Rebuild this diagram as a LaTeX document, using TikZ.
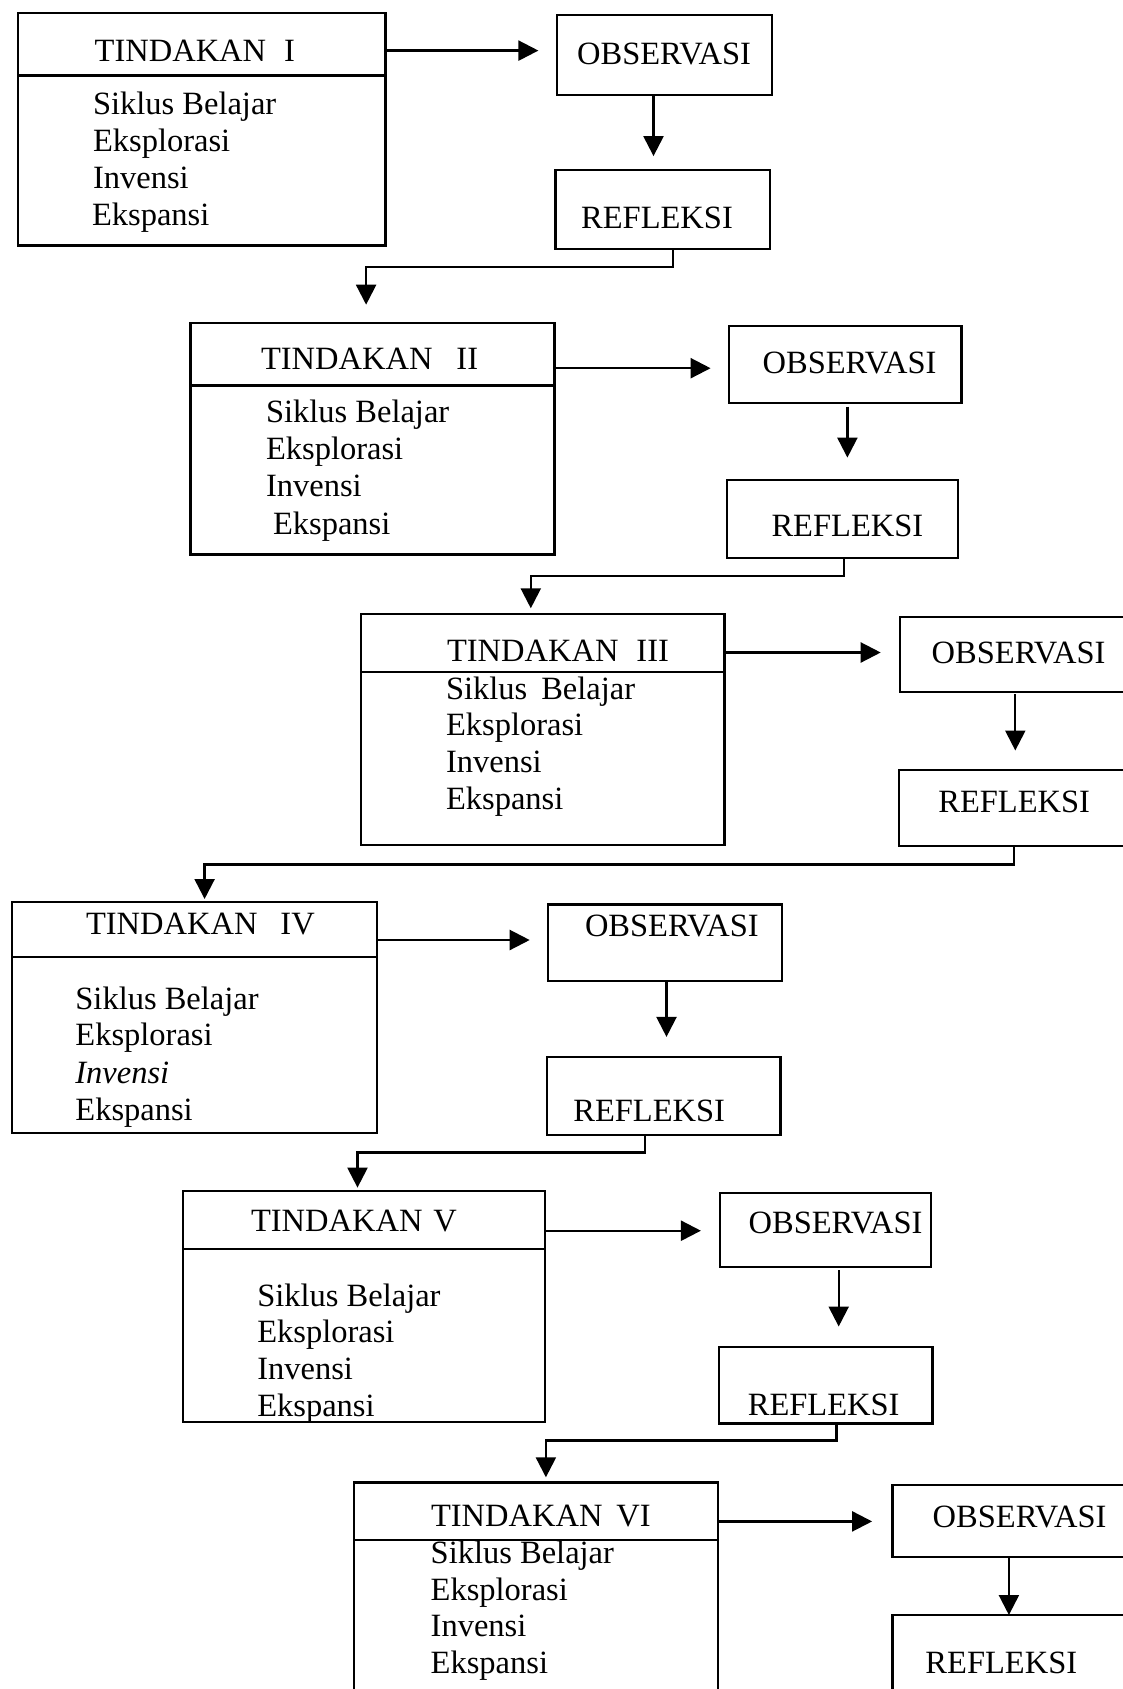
\documentclass[tikz,border=0pt]{standalone}
\usepackage{fontspec}
\setmainfont{Liberation Serif}
\usetikzlibrary{arrows.meta,fit}
\begin{document}
\begin{tikzpicture}[x=1pt,y=-1pt,
  box/.style={draw, line width=2.3pt, inner sep=0pt, outer sep=0pt},
  txt/.style={inner sep=0pt, outer sep=0pt, font=\fontsize{32.5}{38}\selectfont},
  arr/.style={line width=2.3pt, -{Triangle[length=20pt,width=20pt]}},
  conn/.style={line width=2.3pt}]
\useasboundingbox (0,0) rectangle (1123,1689);
\fill[white] (0,0) rectangle (1123,1689);

% ---------- Row 1 ----------
\node[box, fit={(18.3,12.9) (385.5,245.5)}] (t1) {};
\draw[conn] (t1.west |- 0,75.4) -- (t1.east |- 0,75.4);
\node[txt, anchor=base west] (t1h) at (94.7,61) {TINDAKAN\hspace{18pt}I};
\node[txt, anchor=base west] (t1a) at (93,114) {Siklus Belajar};
\node[txt, anchor=base west] (t1b) at (93,151) {Eksplorasi};
\node[txt, anchor=base west] (t1c) at (93,188) {Invensi};
\node[txt, anchor=base west] (t1d) at (92,225) {Ekspansi};
\node[box, fit={(556.7,15.1) (772,94.7)}] (o1) {};
\node[txt, anchor=base] (o1t) at (664,64) {OBSERVASI};
\node[box, fit={(555.6,170.1) (769.8,248.7)}] (r1) {};
\node[txt, anchor=base] (r1t) at (657,228.6) {REFLEKSI};

% ---------- Row 2 ----------
\node[box, fit={(190.6,323) (554.5,554.5)}] (t2) {};
\draw[conn] (t2.west |- 0,385.5) -- (t2.east |- 0,385.5);
\node[txt, anchor=base west] (t2h) at (261,369.6) {TINDAKAN\hspace{24pt}II};
\node[txt, anchor=base west] (t2a) at (266,422.4) {Siklus Belajar};
\node[txt, anchor=base west] (t2b) at (266,459) {Eksplorasi};
\node[txt, anchor=base west] (t2c) at (266,496.7) {Invensi};
\node[txt, anchor=base west] (t2d) at (273,534.4) {Ekspansi};
\node[box, fit={(728.9,326.2) (961.5,402.7)}] (o2) {};
\node[txt, anchor=base] (o2t) at (849.5,373) {OBSERVASI};
\node[box, fit={(726.8,480.2) (958.3,557.7)}] (r2) {};
\node[txt, anchor=base] (r2t) at (847.4,536.5) {REFLEKSI};

% ---------- Row 3 ----------
\node[box, fit={(360.7,613.7) (724.6,845.2)}] (t3) {};
\draw[conn] (t3.west |- 0,671.9) -- (t3.east |- 0,671.9);
\node[txt, anchor=base west] (t3h) at (447,661.4) {TINDAKAN\hspace{18pt}III};
\node[txt, anchor=base west] (t3a) at (446,699) {Siklus\hspace{14pt}Belajar};
\node[txt, anchor=base west] (t3b) at (446,735.7) {Eksplorasi};
\node[txt, anchor=base west] (t3c) at (446,772.3) {Invensi};
\node[txt, anchor=base west] (t3d) at (446,809) {Ekspansi};
\node[box, fit={(900.1,616.9) (1130,692.3)}] (o3) {};
\node[txt, anchor=base] (o3t) at (1018.6,663.5) {OBSERVASI};
\node[box, fit={(899,769.8) (1130,846.3)}] (r3) {};
\node[txt, anchor=base] (r3t) at (1014.2,812) {REFLEKSI};

% ---------- Row 4 ----------
\node[box, fit={(11.8,902.3) (376.8,1132.7)}] (t4) {};
\draw[conn] (t4.west |- 0,957.2) -- (t4.east |- 0,957.2);
\node[txt, anchor=base west] (t4h) at (86,934.9) {TINDAKAN\hspace{23pt}IV};
\node[txt, anchor=base west] (t4a) at (75.4,1009.2) {Siklus Belajar};
\node[txt, anchor=base west] (t4b) at (75.4,1045.8) {Eksplorasi};
\node[txt, anchor=base west] (t4c) at (75.4,1083.4) {\itshape Invensi};
\node[txt, anchor=base west] (t4d) at (75.4,1120.1) {Ekspansi};
\node[box, fit={(548,904.4) (781.7,980.9)}] (o4) {};
\node[txt, anchor=base] (o4t) at (671.9,936) {OBSERVASI};
\node[box, fit={(547,1057.3) (780.6,1134.8)}] (r4) {};
\node[txt, anchor=base] (r4t) at (649.2,1121) {REFLEKSI};

% ---------- Row 5 ----------
\node[box, fit={(183,1190.8) (544.8,1422.3)}] (t5) {};
\draw[conn] (t5.west |- 0,1248.9) -- (t5.east |- 0,1248.9);
\node[txt, anchor=base west] (t5h) at (251,1231.7) {TINDAKAN\hspace{11pt}V};
\node[txt, anchor=base west] (t5a) at (257.3,1306.3) {Siklus Belajar};
\node[txt, anchor=base west] (t5b) at (257.3,1342.9) {Eksplorasi};
\node[txt, anchor=base west] (t5c) at (257.3,1379.5) {Invensi};
\node[txt, anchor=base west] (t5d) at (257.3,1416.1) {Ekspansi};
\node[box, fit={(720.3,1193) (931.3,1267.3)}] (o5) {};
\node[txt, anchor=base] (o5t) at (835.5,1233) {OBSERVASI};
\node[box, fit={(719.2,1346.9) (932.4,1423.4)}] (r5) {};
\node[txt, anchor=base] (r5t) at (823.7,1415) {REFLEKSI};

% ---------- Row 6 ----------
\node[box, fit={(354.2,1482.6) (718.2,1700)}] (t6) {};
\draw[conn] (t6.west |- 0,1539.7) -- (t6.east |- 0,1539.7);
\node[txt, anchor=base west] (t6h) at (431,1526.1) {TINDAKAN\hspace{14pt}VI};
\node[txt, anchor=base west] (t6a) at (430.7,1563.7) {Siklus Belajar};
\node[txt, anchor=base west] (t6b) at (430.7,1600.3) {Eksplorasi};
\node[txt, anchor=base west] (t6c) at (430.7,1636.9) {Invensi};
\node[txt, anchor=base west] (t6d) at (430.7,1673.6) {Ekspansi};
\node[box, fit={(892.6,1484.8) (1130,1556.9)}] (o6) {};
\node[txt, anchor=base] (o6t) at (1019.6,1527) {OBSERVASI};
\node[box, fit={(892.6,1615) (1130,1700)}] (r6) {};
\node[txt, anchor=base] (r6t) at (1001.3,1673.6) {REFLEKSI};

% ---------- horizontal arrows ----------
\draw[arr, shorten >=18.3pt] (t1.east |- 0,50.6) -- (o1.west |- 0,50.6);
\draw[arr, shorten >=18.3pt] (t2.east |- 0,368.2) -- (o2.west |- 0,368.2);
\draw[arr, shorten >=19.4pt] (t3.east |- 0,652.5) -- (o3.west |- 0,652.5);
\draw[arr, shorten >=18.3pt] (t4.east |- 0,940) -- (o4.west |- 0,940);
\draw[arr, shorten >=19.4pt] (t5.east |- 0,1230.7) -- (o5.west |- 0,1230.7);
\draw[arr, shorten >=20.5pt] (t6.east |- 0,1521.4) -- (o6.west |- 0,1521.4);

% ---------- vertical arrows ----------
\draw[arr, shorten >=14pt] (653.5,0 |- o1.south) -- (653.5,0 |- r1.north);
\draw[arr, shorten <=4pt, shorten >=22.6pt] (847.4,0 |- o2.south) -- (847.4,0 |- r2.north);
\draw[arr, shorten <=2pt, shorten >=19.3pt] (1015.3,0 |- o3.south) -- (1015.3,0 |- r3.north);
\draw[arr, shorten >=20.4pt] (666.5,0 |- o4.south) -- (666.5,0 |- r4.north);
\draw[arr, shorten <=3pt, shorten >=20.4pt] (838.7,0 |- o5.south) -- (838.7,0 |- r5.north);
\draw[arr] (1008.9,0 |- o6.south) -- (1008.9,0 |- r6.north);

% ---------- elbow connectors ----------
\draw[arr, shorten >=18.3pt] (672.9,0 |- r1.south) -- ++(0,18.3) -| (366.1,0 |- t2.north);
\draw[arr, shorten >=5.4pt] (844.1,0 |- r2.south) -- ++(0,18.3) -| (530.8,0 |- t3.north);
\draw[arr, shorten >=3.3pt] (1014.2,0 |- r3.south) -- ++(0,18.3) -| (204.6,0 |- t4.north);
\draw[arr, shorten >=3.2pt] (645,0 |- r4.south) -- ++(0,17.8) -| (357.5,0 |- t5.north);
\draw[arr, shorten >=5.3pt] (836.6,0 |- r5.south) -- ++(0,17.2) -| (545.9,0 |- t6.north);
\end{tikzpicture}
\end{document}
